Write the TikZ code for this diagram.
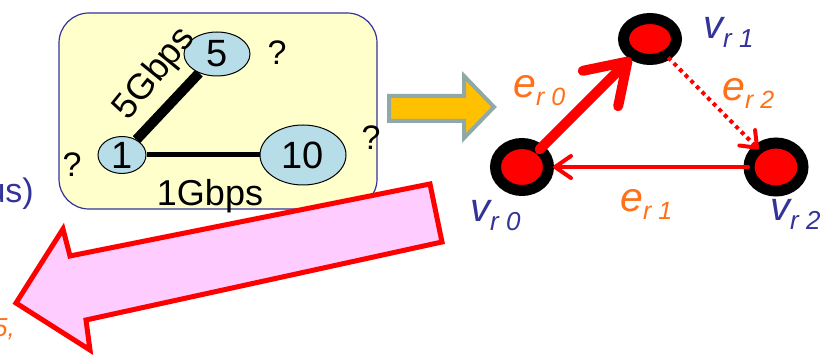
\documentclass[tikz,border=0pt]{standalone}
\usepackage{fontspec}
\setmainfont{Liberation Sans}
\usetikzlibrary{arrows.meta,shapes.geometric}
\definecolor{navy}{RGB}{51,51,153}
\definecolor{eorange}{RGB}{255,112,24}
\definecolor{boxyellow}{RGB}{255,255,204}
\definecolor{nodeblue}{RGB}{183,222,232}
\definecolor{pinkfill}{RGB}{255,204,255}
\definecolor{arrowgold}{RGB}{255,192,0}
\definecolor{arrowgray}{RGB}{143,168,168}
\newcommand{\fsz}[1]{\fontsize{#1}{#1}\selectfont}
\newcommand{\vlab}[1]{{\fsz{40}\itshape v}{\fsz{26}\itshape\raisebox{-9pt}{r #1}}}
\newcommand{\elab}[1]{{\fsz{41}\itshape e}{\fsz{25}\itshape\raisebox{-8pt}{r #1}}}
\pgfdeclarelayer{back}
\pgfdeclarelayer{edges}
\pgfsetlayers{back,edges,main}
\tikzset{
  gnode/.style={ellipse, draw=black, line width=1pt, fill=nodeblue, inner sep=0pt, font=\fsz{38}},
  qmark/.style={font=\fsz{34}},
  rnode/.style={ellipse, draw=black, line width=11pt, fill=red, inner sep=0pt},
  vlabel/.style={text=navy, inner sep=0pt},
  elabel/.style={text=eorange, inner sep=0pt},
  redge/.style={draw=red, line cap=round},
}
\begin{document}
\begin{tikzpicture}[x=1pt,y=-1pt]
\useasboundingbox (0,0) rectangle (836,355);
% yellow box
\begin{pgfonlayer}{back}
\node[draw=navy, line width=1.2pt, fill=boxyellow, rounded corners=30pt,
      minimum width=318pt, minimum height=196pt, inner sep=0pt] (box) at (218,111) {};
\end{pgfonlayer}
% graph nodes
\node[gnode, minimum width=48pt, minimum height=36pt] (n1) at (122,155) {1};
\node[gnode, minimum width=66pt, minimum height=44pt] (n5) at (217,54) {5};
\node[gnode, minimum width=86pt, minimum height=60pt] (n10) at (303,155) {10};
\begin{pgfonlayer}{edges}
\draw[line width=10pt] (n1) -- (n5);
\draw[line width=5pt] (n1) -- (n10);
\end{pgfonlayer}
\node[rotate=51, font=\fsz{36}, inner sep=0pt] (l5g) at (155,74) {5Gbps};
\node[font=\fsz{36}, inner sep=0pt] (l1g) at (210,196) {1Gbps};
\node[qmark] (q1) at (277,53) {?};
\node[qmark] (q2) at (371,138) {?};
\node[qmark] (q3) at (72,165) {?};
% left cut-off texts
\node[anchor=base east, text=navy, font=\fsz{34}, inner sep=0pt] (us) at (34,203) {us)};
\node[anchor=base east, text=eorange, font=\fsz{26}\itshape, inner sep=0pt] (five) at (15,337) {5,};
% orange arrow
\draw[fill=arrowgold, draw=arrowgray, line width=4pt, line join=miter]
  (389,96) coordinate (oa1) -- (464,96) -- (464,76) -- (494,107) coordinate (oatip) -- (464,138) -- (464,121) -- (389,121) -- cycle;
% pink arrow
\draw[fill=pinkfill, draw=red, line width=5pt, line join=miter]
  (430,184) coordinate (pa1) -- (442,242) -- (86,320) -- (90,350) -- (16,303) coordinate (patip) -- (63,229) -- (70,256) -- cycle;
% triangle graph
\node[rnode, minimum width=53pt, minimum height=47pt] (v0) at (522,167) {};
\node[rnode, minimum width=53pt, minimum height=41pt] (v1) at (650,39) {};
\node[rnode, minimum width=54pt, minimum height=48pt] (v2) at (776,167) {};
\draw[redge, line width=10pt, -{Straight Barb[length=38pt, width=50pt, round]},
      shorten <=25pt, shorten >=27pt] (v0.center) -- (v1.center);
\draw[redge, line width=4pt, -{Straight Barb[length=16pt, width=22pt, round]},
      shorten <=28pt, shorten >=31pt] (v2.center) -- (v0.center);
\draw[redge, line width=4pt, line cap=butt, dash pattern=on 4pt off 4pt,
      -{Straight Barb[length=14pt, width=22pt, round]},
      shorten <=26pt, shorten >=25pt] (v1.center) -- (v2.center);
\node[vlabel, anchor=base west] (lv1) at (703,39) {\vlab{1}};
\node[vlabel, anchor=base west] (lv0) at (470,222) {\vlab{0}};
\node[vlabel, anchor=base west] (lv2) at (770,221) {\vlab{2}};
\node[elabel, anchor=base west] (le0) at (513,98) {\elab{0}};
\node[elabel, anchor=base west] (le2) at (722,101) {\elab{2}};
\node[elabel, anchor=base west] (le1) at (620,212) {\elab{1}};
\end{tikzpicture}
\end{document}
